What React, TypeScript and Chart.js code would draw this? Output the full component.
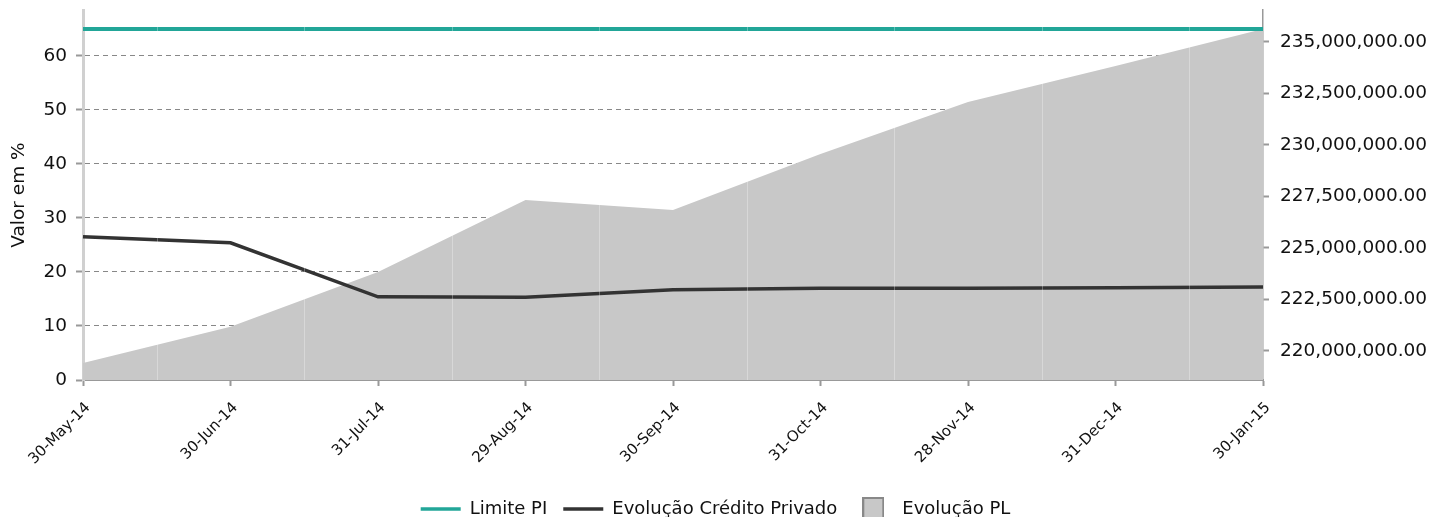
import React, { useEffect, useRef } from "react";
import { Chart, registerables } from "chart.js";

Chart.register(...registerables);

const categories = [
  "30-May-14", "30-Jun-14", "31-Jul-14", "29-Aug-14", "30-Sep-14",
  "31-Oct-14", "28-Nov-14", "31-Dec-14", "30-Jan-15",
];
const limitePI = [65, 65, 65, 65, 65, 65, 65, 65, 65];
const creditoPrivado = [26.5, 25.4, 15.4, 15.3, 16.7, 17.0, 17.0, 17.1, 17.2];
const evolucaoPL = [
  219420000, 221170000, 223830000, 227330000, 226840000,
  229560000, 232090000, 233830000, 235630000,
];
const leftTicks = [0, 10, 20, 30, 40, 50, 60];
const rightTicks = [220000000, 222500000, 225000000, 227500000, 230000000, 232500000, 235000000];

const FONT = "'DejaVu Sans', sans-serif";

export default function App() {
  const ref = useRef<HTMLCanvasElement | null>(null);
  useEffect(() => {
    document.body.style.margin = "0";
    const canvas = ref.current;
    if (!canvas) return;

    const box = document.createElement("canvas");
    box.width = 22;
    box.height = 24;
    const bctx = box.getContext("2d")!;
    bctx.fillStyle = "#c8c8c8";
    bctx.fillRect(0, 0, 22, 24);
    bctx.strokeStyle = "#888888";
    bctx.lineWidth = 2;
    bctx.strokeRect(1, 1, 20, 22);

    const seams = {
      id: "seams",
      afterDatasetsDraw(chart: any) {
        const x = chart.scales.x;
        const area = chart.chartArea;
        const ctx = chart.ctx;
        ctx.save();
        ctx.strokeStyle = "rgba(255,255,255,0.3)";
        ctx.lineWidth = 1;
        for (let i = 0; i < categories.length - 1; i++) {
          const px = Math.round((x.getPixelForValue(i) + x.getPixelForValue(i + 1)) / 2) + 0.5;
          ctx.beginPath();
          ctx.moveTo(px, area.top);
          ctx.lineTo(px, area.bottom);
          ctx.stroke();
        }
        ctx.restore();
      },
    };

    const chart = new Chart(canvas, {
      type: "line",
      data: {
        labels: categories,
        datasets: [
          {
            label: "Limite PI",
            data: limitePI,
            yAxisID: "y",
            borderColor: "#22a698",
            backgroundColor: "#22a698",
            borderWidth: 4,
            pointRadius: 0,
            fill: false,
            tension: 0,
          },
          {
            label: "Evolução Crédito Privado",
            data: creditoPrivado,
            yAxisID: "y",
            borderColor: "#333333",
            backgroundColor: "#333333",
            borderWidth: 3.5,
            pointRadius: 0,
            fill: false,
            tension: 0,
          },
          {
            label: "Evolução PL",
            data: evolucaoPL,
            yAxisID: "y1",
            borderColor: "#c8c8c8",
            backgroundColor: "#c8c8c8",
            borderWidth: 0,
            pointRadius: 0,
            fill: "start",
            tension: 0,
          },
        ],
      },
      options: {
        animation: false,
        responsive: false,
        layout: { padding: { top: 10, left: 0, right: 0, bottom: -11 } },
        plugins: {
          tooltip: { enabled: false },
          legend: {
            position: "bottom",
            labels: {
              usePointStyle: true,
              pointStyleWidth: 40,
              boxHeight: 18,
              padding: 16,
              color: "#111",
              font: { family: FONT, size: 18 },
              generateLabels(chart: any) {
                return chart.data.datasets.map((ds: any, i: number) => ({
                  text: ds.label,
                  fillStyle: i === 2 ? "#c8c8c8" : ds.borderColor,
                  strokeStyle: i === 2 ? "#888888" : ds.borderColor,
                  lineWidth: i === 2 ? 2 : 3.5,
                  pointStyle: i === 2 ? box : "line",
                  hidden: false,
                  datasetIndex: i,
                  fontColor: "#111",
                }));
              },
            },
          },
        },
        scales: {
          x: {
            offset: false,
            grid: {
              drawOnChartArea: false,
              drawTicks: true,
              tickLength: 6,
              tickColor: "#999",
              tickWidth: 2,
            },
            border: { display: true, color: "#999", width: 2 },
            ticks: {
              color: "#111",
              font: { family: FONT, size: 15 },
              minRotation: 45,
              maxRotation: 45,
              autoSkip: false,
              padding: 13,
              labelOffset: 5,
            },
            afterFit(scale: any) {
              scale.height = 104;
              scale.paddingLeft = 0;
              scale.paddingRight = 0;
            },
          },
          y: {
            position: "left",
            min: 0,
            max: 68.5,
            afterBuildTicks(scale: any) {
              scale.ticks = leftTicks.map((v) => ({ value: v }));
            },
            grid: {
              color: "#888",
              lineWidth: 1,
              drawTicks: true,
              tickLength: 7,
              tickColor: "#999",
              tickWidth: 2,
              tickBorderDash: [],
            },
            border: { display: true, color: "#d0d0d0", width: 3, dash: [5, 4] },
            ticks: {
              color: "#111",
              font: { family: FONT, size: 18.5 },
              padding: 9,
            },
            title: {
              display: true,
              text: "Valor em %",
              color: "#111",
              font: { family: FONT, size: 18.5 },
              padding: { top: 8, bottom: 4 },
            },
            afterFit(scale: any) {
              scale.width = 83;
              scale.paddingTop = 0;
              scale.paddingBottom = 0;
            },
          },
          y1: {
            position: "right",
            min: 218590000,
            max: 236550000,
            afterBuildTicks(scale: any) {
              scale.ticks = rightTicks.map((v) => ({ value: v }));
            },
            grid: {
              drawOnChartArea: false,
              drawTicks: true,
              tickLength: 6,
              tickColor: "#999",
              tickWidth: 2,
            },
            border: { display: true, color: "#999", width: 1.5 },
            ticks: {
              color: "#111",
              font: { family: FONT, size: 18.5 },
              padding: 11,
              callback: (v: any) =>
                Number(v).toLocaleString("en-US", { minimumFractionDigits: 2, maximumFractionDigits: 2 }),
            },
            afterFit(scale: any) {
              scale.width = 168;
              scale.paddingTop = 0;
              scale.paddingBottom = 0;
            },
          },
        },
      },
      plugins: [seams],
    } as any);
    return () => chart.destroy();
  }, []);
  return (
    <div style={{ position: "absolute", left: 0, top: 0, width: 1431, height: 517 }}>
      <canvas ref={ref} width={1431} height={517} style={{ display: "block" }} />
    </div>
  );
}
